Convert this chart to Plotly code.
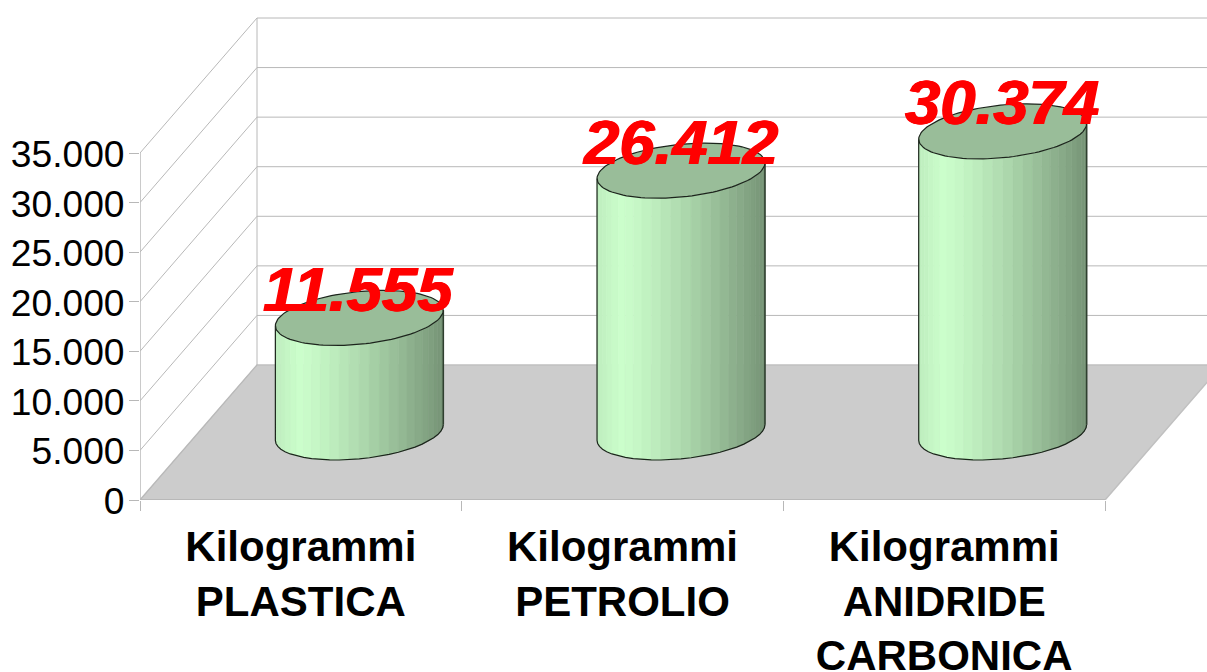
import math
import numpy as np
import plotly.graph_objects as go

categories = ["Kilogrammi<br>PLASTICA", "Kilogrammi<br>PETROLIO", "Kilogrammi<br>ANIDRIDE<br>CARBONICA"]
values = [11555, 26412, 30374]
value_labels = ["11.555", "26.412", "30.374"]
tick_values = [0, 5000, 10000, 15000, 20000, 25000, 30000, 35000]
tick_labels = ["0", "5.000", "10.000", "15.000", "20.000", "25.000", "30.000", "35.000"]

W, H = 1207, 672
LEFT = 140
ZERO_Y = 500
PX_X = 321.67           # pixels per category
PX_Y = 347 / 35000      # pixels per value unit
DX = 117 / PX_X         # full depth, in x units
DY = 135 / PX_Y         # full depth, in value units
RX = 80.5 / PX_X        # cylinder half width on the front plane
RD = 0.204              # cylinder half depth, as share of full depth
GRID = "#b8b8b8"

fig = go.Figure()


def poly(xs, ys, fill=None, line=None, width=1.0):
    fig.add_trace(go.Scatter(
        x=list(xs), y=list(ys), mode="lines",
        fill="toself" if fill else "none", fillcolor=fill,
        line=dict(color=line or fill, width=width),
        hoverinfo="skip", showlegend=False))


n = len(categories)
top = tick_values[-1]
# floor
poly([0, n, n + DX, DX, 0], [0, 0, DY, DY, 0], fill="#cccccc", line="#c0c0c0", width=1.5)
# side wall and back wall grid
for v in tick_values:
    if v > 0:
        poly([0, DX, n + DX], [v, v + DY, v + DY], line=GRID, width=1)
poly([DX, DX], [DY, top + DY], line=GRID, width=1)
poly([0, DX], [0, DY], line=GRID, width=1)
poly([0, 0], [0, top], line=GRID, width=1.5)
poly([0, n], [0, 0], line=GRID, width=2)


def shade(u):
    peak = 0.14
    if u < peak:
        f = 0.93 + 0.07 * u / peak
    else:
        f = 1.0 - 0.42 * ((u - peak) / (1 - peak)) ** 1.25
    return "rgb(%d,%d,%d)" % (204 * f, 255 * f, 204 * f)


for i, v in enumerate(values):
    cx = i + 0.5 + DX * 0.5
    phi = math.atan2(RD * DX, RX)
    ts = np.linspace(math.pi + phi, 2 * math.pi + phi, 27)
    ex = cx + RX * np.cos(ts) + DX * RD * np.sin(ts)
    ey = DY * (0.5 + RD * np.sin(ts))
    span = ex[-1] - ex[0]
    for k in range(len(ts) - 1):
        u = ((ex[k] + ex[k + 1]) / 2 - ex[0]) / span
        poly([ex[k], ex[k + 1], ex[k + 1], ex[k], ex[k]],
             [ey[k], ey[k + 1], ey[k + 1] + v, ey[k] + v, ey[k]],
             fill=shade(u), width=0.6)
    # outline of the side
    poly(list(ex[::-1]) + [ex[0]], list(ey[::-1]) + [ey[0] + v], line="#1c241c", width=1.2)
    poly([ex[-1], ex[-1]], [ey[-1], ey[-1] + v], line="#2f3f2f", width=1.6)
    # top face
    tt = np.linspace(0, 2 * math.pi, 121)
    tx = cx + RX * np.cos(tt) + DX * RD * np.sin(tt)
    ty = v + DY * (0.5 + RD * np.sin(tt))
    poly(tx, ty, fill="#99bd99", line="#1c241c", width=1.2)

for i, v in enumerate(values):
    fig.add_annotation(
        x=i + 0.5 + DX * 0.5, y=v + DY * 0.5, text=value_labels[i],
        showarrow=False, xanchor="center", yanchor="middle", xshift=-1, yshift=29,
        font=dict(family="Liberation Sans", size=63.5, color="#ff0000", weight="bold", style="italic",
                  shadow="0.8px 0 0 #ff0000, -0.8px 0 0 #ff0000"))

fig.update_layout(
    width=W, height=H, autosize=False,
    margin=dict(l=LEFT, r=0, t=0, b=H - ZERO_Y, pad=0, autoexpand=False),
    paper_bgcolor="white", plot_bgcolor="white", showlegend=False,
    xaxis=dict(range=[0, (W - LEFT) / PX_X], tickmode="array", automargin=False,
               tickvals=[i + 0.5 for i in range(n)], ticktext=categories,
               ticks="", showgrid=False, zeroline=False, showline=False, fixedrange=True,
               ticklabelstandoff=18,
               tickfont=dict(family="Liberation Sans", size=42, color="#000000", weight="bold"),
               minor=dict(tickmode="array", tickvals=list(range(n + 1)), ticks="outside",
                          ticklen=10, tickwidth=1, tickcolor=GRID, showgrid=False)),
    yaxis=dict(range=[0, ZERO_Y / PX_Y], tickmode="array", tickvals=tick_values, ticktext=tick_labels,
               ticks="outside", ticklen=10, tickwidth=1, tickcolor=GRID, automargin=False,
               showgrid=False, zeroline=False, showline=False, fixedrange=True,
               ticklabelstandoff=-3, ticklabelshift=1,
               tickfont=dict(family="Liberation Sans", size=37.2, color="#000000")),
)
# the page's default body margin would push the figure 8 px in and clip its right edge
fig.write_html("out.html", config={"displayModeBar": False},
               post_script="document.body.style.margin='0';")
